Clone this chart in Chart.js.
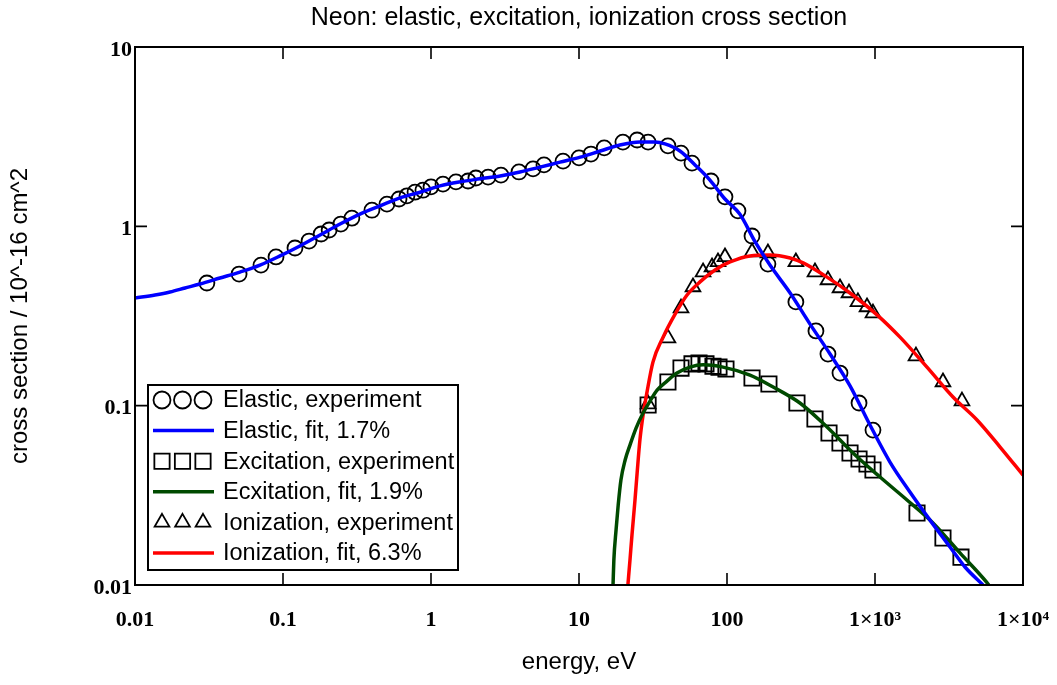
<!DOCTYPE html>
<html><head><meta charset="utf-8">
<script src="https://cdn.jsdelivr.net/npm/chart.js@4.4.1/dist/chart.umd.min.js"></script>
<style>html,body{margin:0;padding:0;background:#fff}#wrap{width:1057px;height:685px;position:relative}</style>
</head><body><div id="wrap"><canvas id="c" width="1057" height="685"></canvas></div>
<script>
// ---- data (energy in eV, cross section in 10^-16 cm^2) ----
const elasticExpE = [0.0306,0.0505,0.071,0.0897,0.1205,0.150,0.181,0.205,0.246,0.292,0.399,0.504,0.608,0.688,0.780,0.882,1.0,1.205,1.475,1.78,2.01,2.43,2.97,3.93,4.89,5.80,7.80,10.0,12.05,14.8,19.8,24.7,29.3,39.9,48.9,58.0,78.0,96.9,118.6,147.6,189,292,399,481,580,780,969];
const elasticExpS = [0.483,0.542,0.608,0.675,0.757,0.828,0.906,0.954,1.03,1.11,1.23,1.33,1.42,1.48,1.55,1.59,1.66,1.72,1.77,1.79,1.86,1.88,1.93,2.01,2.09,2.20,2.31,2.41,2.53,2.74,2.95,3.03,2.95,2.81,2.56,2.25,1.79,1.46,1.22,0.883,0.616,0.379,0.261,0.194,0.152,0.1035,0.0731];
const elasticFitE = [0.01,0.01365,0.01724,0.02178,0.0275,0.0375,0.0512,0.0699,0.0955,0.130,0.178,0.243,0.331,0.452,0.617,0.843,1.15,1.57,2.14,2.93,3.99,5.45,7.44,10.2,13.9,18.9,25.8,32.6,38.1,48.1,60.8,76.7,96.9,122,155,195,267,364,497,678,925,1262,1722,2353,3212,4055,5370];
const elasticFitS = [0.398,0.414,0.430,0.453,0.477,0.515,0.556,0.608,0.684,0.777,0.895,1.03,1.17,1.30,1.44,1.55,1.68,1.77,1.84,1.91,2.01,2.14,2.28,2.43,2.63,2.84,2.95,2.95,2.88,2.63,2.20,1.81,1.42,1.17,0.818,0.608,0.425,0.285,0.194,0.129,0.078,0.0485,0.0330,0.0230,0.0163,0.0126,0.0100];
const excExpE = [29.3,39.9,48.9,58.0,64.7,72.1,80.4,88.3,98.4,147.6,192,297,393,489,580,678,780,883,969,1923,2879,3810];
const excExpS = [0.1009,0.1355,0.162,0.171,0.173,0.171,0.166,0.164,0.160,0.1427,0.132,0.1035,0.0843,0.0704,0.0619,0.0545,0.0504,0.0473,0.0438,0.0252,0.0183,0.0143];
const excFitE = [16.98,17.2,17.8,18.4,19.2,20.5,22.1,24.3,27.1,30.2,33.7,39.3,45.9,56.2,68.9,94.0,143,205,311,474,710,1081,1645,2465,3750,5710,6200];
const excFitS = [0.01,0.01377,0.0203,0.0279,0.0385,0.0498,0.0603,0.0750,0.091,0.106,0.122,0.137,0.152,0.164,0.169,0.164,0.148,0.127,0.1035,0.076,0.0545,0.040,0.0298,0.0222,0.0151,0.0103,0.0094];
const ionExpE = [29.3,39.9,48.9,58.9,68.9,79.2,86.9,96.9,147.6,189,292,393,481,580,667,767,883,969,1892,2879,3870];
const ionExpS = [0.102,0.238,0.350,0.459,0.556,0.593,0.633,0.675,0.719,0.710,0.633,0.556,0.502,0.453,0.425,0.379,0.355,0.328,0.189,0.1355,0.106];
const ionFitE = [21.4,22.1,22.8,23.9,24.7,25.8,27.1,28.8,31.6,37.0,44.6,53.7,65.7,83.0,104.8,143,195,267,327,474,678,1032,1476,2245,3365,4890,7000,10000];
const ionFitS = [0.01,0.01377,0.0190,0.0298,0.0421,0.0644,0.0887,0.119,0.175,0.241,0.324,0.414,0.490,0.571,0.633,0.684,0.692,0.666,0.625,0.521,0.425,0.321,0.241,0.164,0.1117,0.0832,0.0588,0.0410];

const xTickValues = [0.01,0.1,1,10,100,1000,10000];
const xTickLabels = ['0.01','0.1','1','10','100','1\u00d710\u00b3','1\u00d710\u2074'];
const yTickValues = [0.01,0.1,1,10];
const yTickLabels = ['0.01','0.1','1','10'];

const seriesLabels = ['Elastic, experiment','Elastic, fit, 1.7%','Excitation, experiment','Ecxitation, fit, 1.9%','Ionization, experiment','Ionization, fit, 6.3%'];

const pts = (xs, ys) => xs.map((v, i) => ({x: v, y: ys[i]}));

const expStyle = (style, r) => ({
  showLine: false, pointStyle: style, pointRadius: r, pointHoverRadius: r,
  pointBorderColor: '#000', pointBackgroundColor: 'rgba(0,0,0,0)', pointBorderWidth: 1.8, order: 2
});
const fitStyle = (color) => ({
  showLine: true, borderColor: color, borderWidth: 3.5, pointRadius: 0, pointHoverRadius: 0,
  cubicInterpolationMode: 'monotone', fill: false, order: 1
});

const datasets = [
  Object.assign({label: seriesLabels[0], data: pts(elasticExpE, elasticExpS)}, expStyle('circle', 7.5)),
  Object.assign({label: seriesLabels[1], data: pts(elasticFitE, elasticFitS)}, fitStyle('#0000ff')),
  Object.assign({label: seriesLabels[2], data: pts(excExpE, excExpS)}, expStyle('rect', 10.8)),
  Object.assign({label: seriesLabels[3], data: pts(excFitE, excFitS)}, fitStyle('#004a00')),
  Object.assign({label: seriesLabels[4], data: pts(ionExpE, ionExpS)}, expStyle('triangle', 8.5)),
  Object.assign({label: seriesLabels[5], data: pts(ionFitE, ionFitS)}, fitStyle('#ff0000')),
];

function drawSymbol(ctx, style, x, y, r) {
  ctx.beginPath();
  if (style === 'circle') {
    ctx.arc(x, y, r, 0, Math.PI * 2);
  } else if (style === 'rect') {
    const s = Math.SQRT1_2 * r;
    ctx.rect(x - s, y - s, 2 * s, 2 * s);
  } else {
    const h = r * Math.sqrt(3) / 2;
    ctx.moveTo(x, y - r);
    ctx.lineTo(x + h, y + r / 2);
    ctx.lineTo(x - h, y + r / 2);
    ctx.closePath();
  }
  ctx.stroke();
}

const framePlugin = {
  id: 'frameTicks',
  afterDatasetsDraw(chart) {
    const {ctx, chartArea: a, scales: {x, y}} = chart;
    ctx.save();
    ctx.strokeStyle = '#000';
    ctx.lineWidth = 1.6;
    ctx.beginPath();
    x.ticks.forEach(t => {
      const px = x.getPixelForValue(t.value);
      ctx.moveTo(px, a.bottom); ctx.lineTo(px, a.bottom - 12);
      ctx.moveTo(px, a.top); ctx.lineTo(px, a.top + 12);
    });
    y.ticks.forEach(t => {
      const py = y.getPixelForValue(t.value);
      ctx.moveTo(a.left, py); ctx.lineTo(a.left + 12, py);
      ctx.moveTo(a.right, py); ctx.lineTo(a.right - 12, py);
    });
    ctx.stroke();
    ctx.lineWidth = 2;
    ctx.strokeRect(a.left, a.top, a.right - a.left, a.bottom - a.top);

    // legend box
    const bx = a.left + 13, by = a.top + 338, bw = 310, bh = 185;
    ctx.fillStyle = '#fff';
    ctx.fillRect(bx, by, bw, bh);
    ctx.lineWidth = 2;
    ctx.strokeRect(bx, by, bw, bh);
    ctx.font = '23.5px "Liberation Sans", Arial, sans-serif';
    ctx.textBaseline = 'middle';
    ctx.textAlign = 'left';
    chart.data.datasets.forEach((ds, i) => {
      const cy = by + 15 + i * 30.6;
      if (ds.showLine) {
        ctx.strokeStyle = ds.borderColor;
        ctx.lineWidth = 3.5;
        ctx.beginPath();
        ctx.moveTo(bx + 5, cy); ctx.lineTo(bx + 66, cy);
        ctx.stroke();
      } else {
        ctx.strokeStyle = '#000';
        ctx.lineWidth = 1.8;
        const r = ds.pointStyle === 'rect' ? 10.8 : 8.5;
        for (let k = 0; k < 3; k++) drawSymbol(ctx, ds.pointStyle, bx + 14 + k * 20.5, cy, r);
      }
      ctx.fillStyle = '#000';
      ctx.fillText(ds.label, bx + 75, cy + 1);
    });
    ctx.restore();
  }
};

const tickFont = {family: '"Liberation Serif", "Times New Roman", serif', size: 22, weight: 'bold'};
const axisTitleFont = {family: '"Liberation Sans", Arial, sans-serif', size: 24, weight: 'normal'};
const mainTitleFont = {family: '"Liberation Sans", Arial, sans-serif', size: 25, weight: 'normal'};

new Chart(document.getElementById('c'), {
  type: 'scatter',
  data: {datasets},
  options: {
    responsive: false,
    animation: false,
    layout: {padding: {left: 0, right: 34, top: 0, bottom: 0}},
    plugins: {legend: {display: false}, tooltip: {enabled: false}, title: {display: false}},
    scales: {
      x: {
        type: 'logarithmic', position: 'bottom', min: 0.01, max: 10000,
        afterBuildTicks: s => { s.ticks = xTickValues.map(v => ({value: v})); },
        afterFit: s => { s.height = 100; s.paddingLeft = 0; s.paddingRight = 0; },
        grid: {display: false, drawTicks: false}, border: {display: false},
        ticks: {color: '#000', font: tickFont, padding: 22, autoSkip: false, maxRotation: 0,
          callback: v => { const i = xTickValues.indexOf(v); return i >= 0 ? xTickLabels[i] : ''; }},
        title: {display: true, text: 'energy, eV', color: '#000', font: axisTitleFont, padding: {top: 0, bottom: 8}}
      },
      xTop: {
        type: 'logarithmic', position: 'top', min: 0.01, max: 10000,
        afterFit: s => { s.height = 47; s.paddingLeft = 0; s.paddingRight = 0; },
        grid: {display: false, drawTicks: false}, border: {display: false},
        ticks: {display: false},
        title: {display: true, text: 'Neon: elastic, excitation, ionization cross section', color: '#000', font: mainTitleFont, padding: {top: 3, bottom: 0}}
      },
      y: {
        type: 'logarithmic', position: 'left', min: 0.01, max: 10,
        afterBuildTicks: s => { s.ticks = yTickValues.map(v => ({value: v})); },
        afterFit: s => { s.width = 135; s.paddingTop = 0; s.paddingBottom = 0; },
        grid: {display: false, drawTicks: false}, border: {display: false},
        ticks: {color: '#000', font: tickFont, padding: 3, labelOffset: 3, autoSkip: false,
          callback: v => { const i = yTickValues.indexOf(v); return i >= 0 ? yTickLabels[i] : ''; }},
        title: {display: true, text: 'cross section / 10^-16 cm^2', color: '#000', font: axisTitleFont, padding: {top: 6, bottom: 0}}
      }
    }
  },
  plugins: [framePlugin]
});
</script>
</body></html>
